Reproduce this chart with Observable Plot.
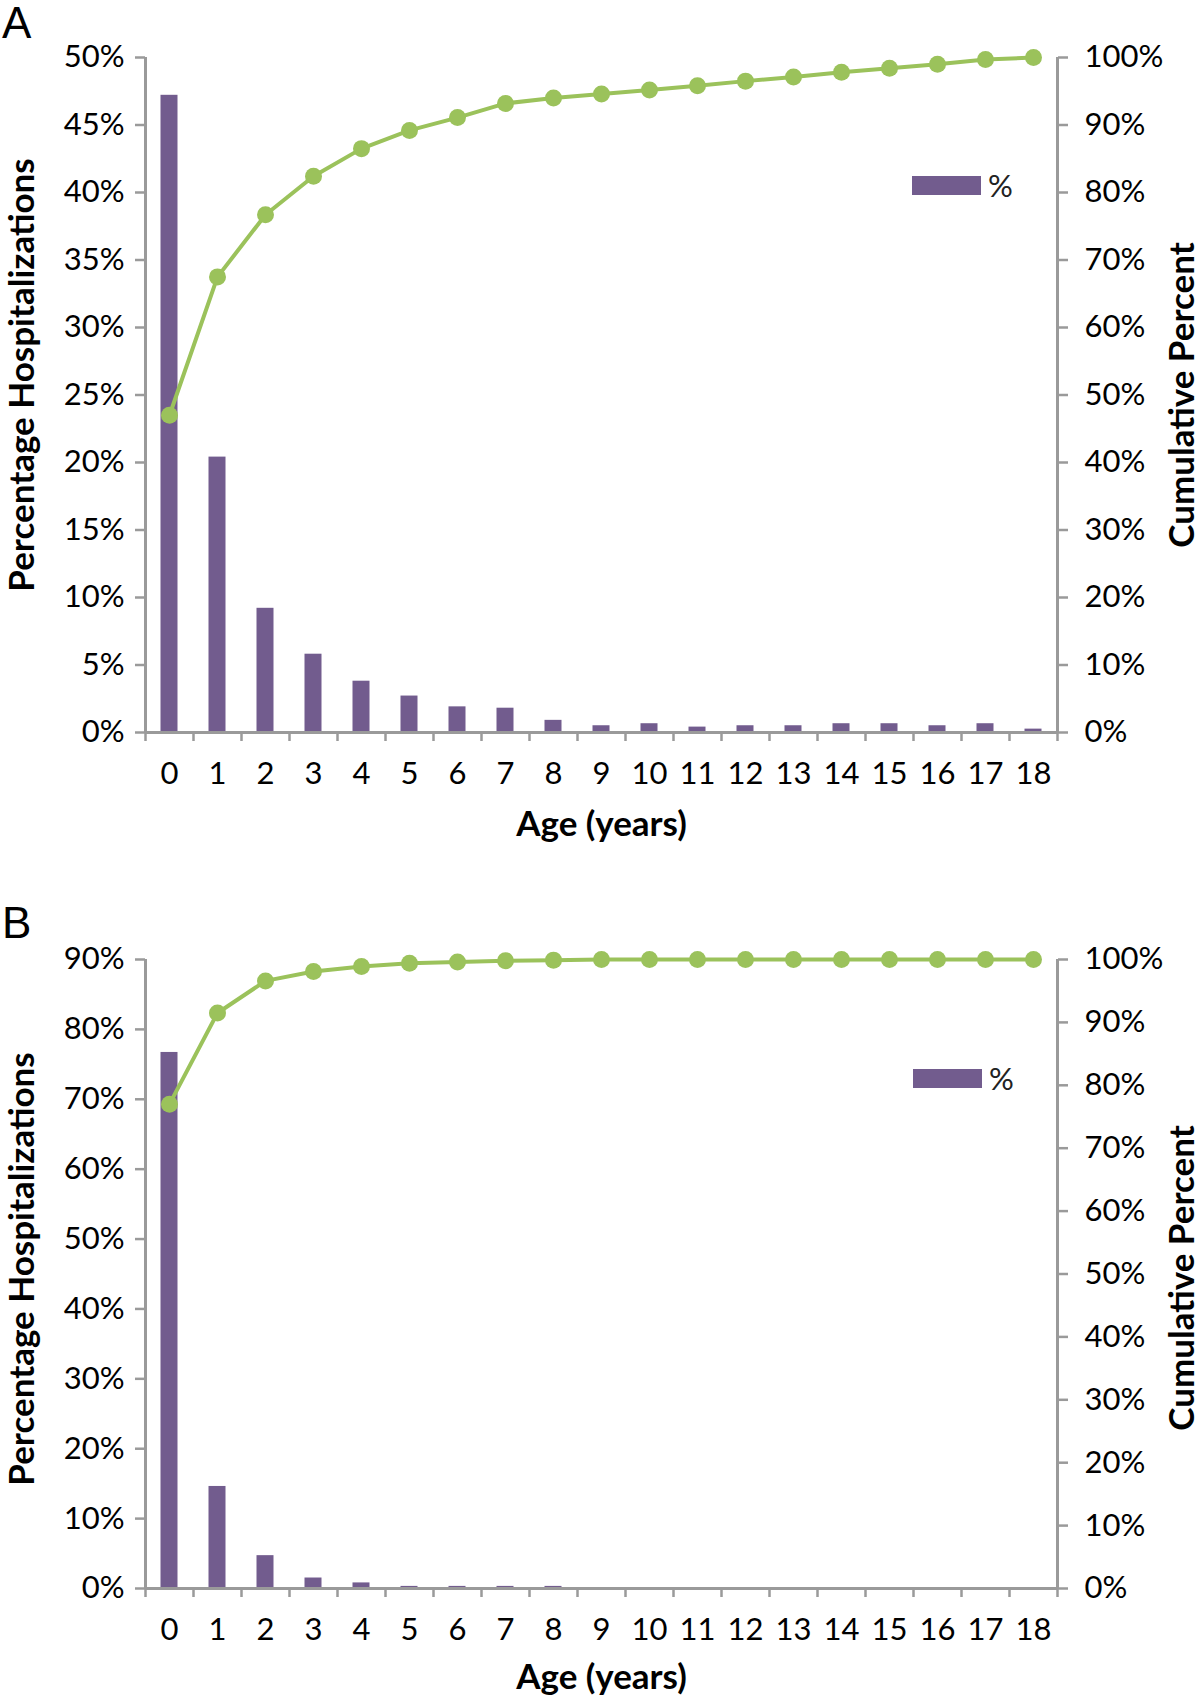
<!DOCTYPE html>
<html><head><meta charset="utf-8">
<script src="https://cdn.jsdelivr.net/npm/d3@7"></script>
<script src="https://cdn.jsdelivr.net/npm/@observablehq/plot@0.6"></script>
<style>
body{margin:0;background:#fff;width:1200px;height:1699px;position:relative;overflow:hidden;font-family:Lato,sans-serif;}
.panel{position:absolute;left:0;width:1200px;}
.tag{position:absolute;left:2px;font-family:"Liberation Sans",Arial,sans-serif;font-size:44px;line-height:1;color:#000;z-index:2;}
.legend{position:absolute;display:flex;align-items:center;font-family:Lato,sans-serif;font-size:31px;line-height:1;color:#222;}
.legend .sw{width:69px;height:19px;background:#725C8E;margin-right:7px;}
</style></head><body>
<div id="A" class="panel" style="top:0"></div>
<div id="B" class="panel" style="top:850px"></div>
<div class="tag" style="top:1px">A</div>
<div class="tag" style="top:901px">B</div>
<div class="legend" style="left:912px;top:170px"><div class="sw"></div><span>%</span></div>
<div class="legend" style="left:913px;top:1063px"><div class="sw"></div><span>%</span></div>
<script>
const ages = [0,1,2,3,4,5,6,7,8,9,10,11,12,13,14,15,16,17,18];
const pctA = [47.2,20.4,9.2,5.8,3.8,2.7,1.9,1.8,0.9,0.5,0.65,0.4,0.5,0.5,0.65,0.65,0.5,0.65,0.25];
const cumA = [47.0,67.5,76.7,82.4,86.5,89.2,91.1,93.2,94.0,94.6,95.2,95.8,96.5,97.1,97.8,98.4,99.0,99.7,100];
const pctB = [76.7,14.6,4.7,1.5,0.8,0.3,0.3,0.3,0.3,0,0,0,0,0,0,0,0,0,0];
const cumB = [77.0,91.5,96.6,98.1,98.9,99.4,99.6,99.8,99.9,100,100,100,100,100,100,100,100,100,100];
const leftTicksA = [0,5,10,15,20,25,30,35,40,45,50];
const leftTicksB = [0,10,20,30,40,50,60,70,80,90];
const rightTicks = [0,10,20,30,40,50,60,70,80,90,100];
const leftTitle = "Percentage Hospitalizations";
const rightTitle = "Cumulative Percent";
const xTitle = "Age (years)";

const purple = "#725C8E", green = "#9BC25B", gray = "#9a9a9a";

function panel({pct, cum, leftMax, leftTicks, height, marginTop, marginBottom, leftDy, rightDy, xTitleDy}) {
  const data = ages.map((a, i) => ({age: a, pct: pct[i], cum: cum[i]}));
  const yRight = d3.scaleLinear([0, 100], [0, leftMax]);
  const xmin = ages[0] - 0.5, xmax = ages[ages.length - 1] + 0.5;
  const bounds = [...ages.map(a => a - 0.5), xmax];
  const titleStyle = {text: d => d, fontWeight: "bold", fontSize: 35, fill: "#000", textAnchor: "middle", lineAnchor: "middle"};
  return Plot.plot({
    width: 1200, height, marginTop, marginBottom, marginLeft: 145, marginRight: 143,
    style: {fontFamily: "Lato, sans-serif", fontSize: "31px", color: "#000", background: "transparent", overflow: "visible"},
    x: {type: "linear", domain: [xmin, xmax]},
    y: {domain: [0, leftMax]},
    marks: [
      Plot.rectY(data, {x1: d => d.age - 0.5, x2: d => d.age + 0.5, y: "pct", fill: purple, insetLeft: 15.5, insetRight: 15.5}),
      Plot.ruleX([xmin], {stroke: gray, strokeWidth: 3}),
      Plot.ruleX([xmax], {stroke: gray, strokeWidth: 3}),
      Plot.ruleY([0], {stroke: gray, strokeWidth: 3}),
      Plot.axisY(leftTicks, {anchor: "left", tickSize: 10, tickPadding: 11, stroke: gray, strokeWidth: 2.5, fill: "#000", fontSize: 31, tickFormat: d => d + "%", label: null}),
      Plot.axisY(rightTicks, {anchor: "right", y: yRight, tickSize: 10, tickPadding: 17, stroke: gray, strokeWidth: 2.5, fill: "#000", fontSize: 31, tickFormat: d => d + "%", label: null}),
      Plot.axisX(bounds, {anchor: "bottom", tickSize: 9, stroke: gray, strokeWidth: 2.5, tickFormat: () => "", label: null}),
      Plot.axisX(ages, {anchor: "bottom", tickSize: 0, tickPadding: 29, fill: "#000", fontSize: 31, tickFormat: d => String(d), label: null}),
      Plot.line(data, {x: "age", y: d => yRight(d.cum), stroke: green, strokeWidth: 4}),
      Plot.dot(data, {x: "age", y: d => yRight(d.cum), r: 8.5, fill: green, stroke: "none"}),
      Plot.text([leftTitle], {...titleStyle, frameAnchor: "left", rotate: -90, dx: -123, dy: leftDy}),
      Plot.text([rightTitle], {...titleStyle, frameAnchor: "right", rotate: -90, dx: 125, dy: rightDy}),
      Plot.text([xTitle], {...titleStyle, frameAnchor: "bottom", dy: xTitleDy})
    ]
  });
}

document.getElementById("A").append(panel({pct: pctA, cum: cumA, leftMax: 50, leftTicks: leftTicksA, height: 850, marginTop: 57, marginBottom: 118, leftDy: -20, rightDy: 0, xTitleDy: 92}));
document.getElementById("B").append(panel({pct: pctB, cum: cumB, leftMax: 90, leftTicks: leftTicksB, height: 849, marginTop: 109, marginBottom: 111, leftDy: -5, rightDy: 4, xTitleDy: 89}));
</script>
</body></html>
